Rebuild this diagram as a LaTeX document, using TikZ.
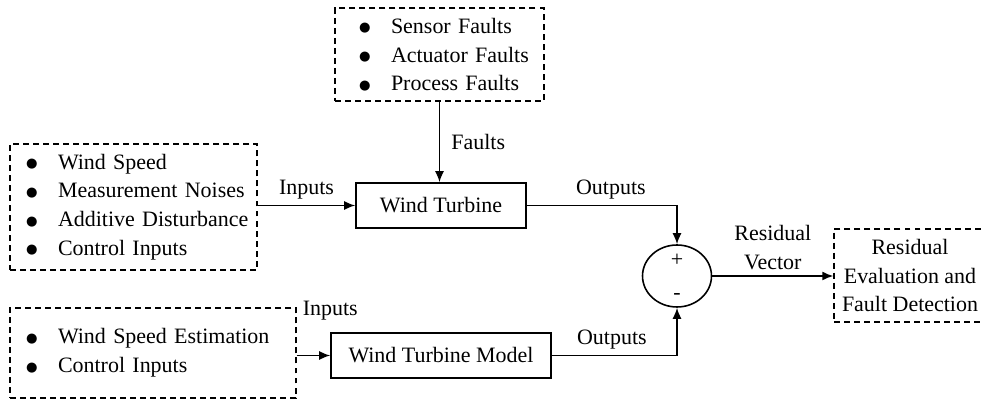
\documentclass[tikz,border=0pt]{standalone}
\usepackage{fontspec}
\setmainfont{Liberation Serif}
\newfontfamily\symfont{DejaVu Sans}
\usetikzlibrary{arrows.meta, positioning, shapes.geometric, calc}
\newcommand{\lstitem}[1]{\mbox{\makebox[0.64cm][l]{\raisebox{0.15ex}{\symfont\fontsize{7.5}{7.5}\selectfont ●}}#1}}
\hfuzz=2cm

\begin{document}
\begin{tikzpicture}[>={Latex[length=2.2mm, width=1.8mm]}, x=0.02cm, y=-0.02cm,
    every node/.style={font=\fontsize{12.5}{16.3}\selectfont},
    block/.style={draw, line width=0.9pt, minimum height=0.9cm, inner sep=0pt},
    dashbox/.style={draw, dash pattern=on 3.4pt off 2.3pt, line width=0.8pt, align=left, inner ysep=0pt},
    link/.style={->, line width=0.9pt}]
    \useasboundingbox (0,0) rectangle (984,401);
    % Input and fault lists
    \node[dashbox, inner xsep=0.48cm, text width=3.22cm, minimum width=4.18cm, minimum height=1.86cm] (faults) at (439.5,54.5) {\lstitem{Sensor Faults}\\ \lstitem{Actuator Faults}\\ \lstitem{Process Faults}};
    \node[dashbox, inner xsep=0.32cm, text width=4.3cm, minimum width=4.94cm, minimum height=2.52cm] (inp) at (133.5,207) {\lstitem{Wind Speed}\\ \lstitem{Measurement Noises}\\ \lstitem{Additive Disturbance}\\ \lstitem{Control Inputs}};
    \node[dashbox, inner xsep=0.32cm, text width=5.08cm, minimum width=5.72cm, minimum height=1.8cm] (est) at (153,353) {\lstitem{Wind Speed Estimation}\\ \lstitem{Control Inputs}};
    % Plant and model
    \node[block, minimum width=3.4cm] (wt) at (441,205.5) {Wind Turbine};
    \node[block, minimum width=4.4cm] (wtm) at (441,355.5) {Wind Turbine Model};
    % Residual generation
    \node[draw, ellipse, line width=0.9pt, minimum width=1.38cm, minimum height=1.24cm, inner sep=0pt] (sum) at (677,276) {};
    \node (plus) at ([yshift=9pt]sum.center) {+};
    \node (minus) at ([yshift=-11.4pt]sum.center) {-};
    \node[dashbox, align=center, inner xsep=0pt, minimum width=3.04cm, minimum height=1.86cm] (res) at (910,275.5) {Residual\\ Evaluation and\\ Fault Detection};
    \draw[link] (faults.south) -- (faults.south |- wt.north) node[midway, right, xshift=3pt] {Faults};
    \draw[link] (inp.east |- wt) -- (wt.west) node[midway, above] {Inputs};
    \draw[link] (est.east |- wtm) -- (wtm.west);
    \node[anchor=west] (inlbl) at ([yshift=-2pt]est.north east) {Inputs};
    \draw[link] (wt.east) -| (sum.north) node[pos=0.28, above] {Outputs};
    \draw[link] (wtm.east) -| (sum.south) node[pos=0.24, above] {Outputs};
    \draw[link] (sum.east) -- (sum.east -| res.west) node[midway, above, align=center] {Residual\\ Vector};
\end{tikzpicture}
\end{document}
